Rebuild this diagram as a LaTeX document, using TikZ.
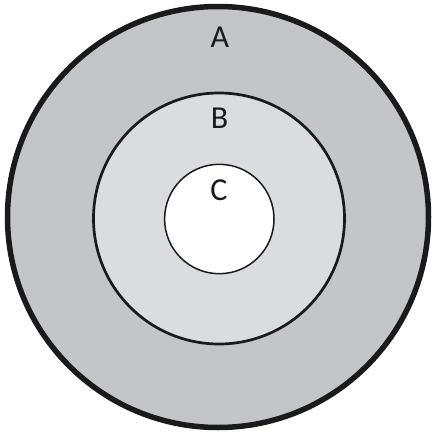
\documentclass[tikz,border=0pt]{standalone}
\usepackage{fontspec}
\setmainfont{Carlito}
\definecolor{ringA}{RGB}{196,197,201}
\definecolor{ringB}{RGB}{219,220,223}
\definecolor{rim}{RGB}{26,26,26}
\tikzstyle{ringlabel}=[anchor=base, inner sep=0pt, text=rim, font=\fontsize{32}{36}\selectfont]

\begin{document}
\begin{tikzpicture}[x=1pt, y=-1pt]
	%\draw[help lines] (0,0) grid (433,434);
	\useasboundingbox (0,0) rectangle (433,434);
	\fill[white] (0,0) rectangle (433,434);

	\draw[fill=ringA, draw=rim, line width=5.5pt] (218,217) circle[radius=210.5pt];%outer ring
	\draw[fill=ringB, draw=rim, line width=2.7pt] (219,218.5) circle[radius=125.5pt];%middle ring
	\draw[fill=white, draw=rim, line width=1.5pt] (219.3,219) circle[radius=54.7pt];%core

	\node[ringlabel] (labA) at (220,47) {A};
	\node[ringlabel] (labB) at (219.5,128) {B};
	\node[ringlabel] (labC) at (219,200) {C};
\end{tikzpicture}
\end{document}
